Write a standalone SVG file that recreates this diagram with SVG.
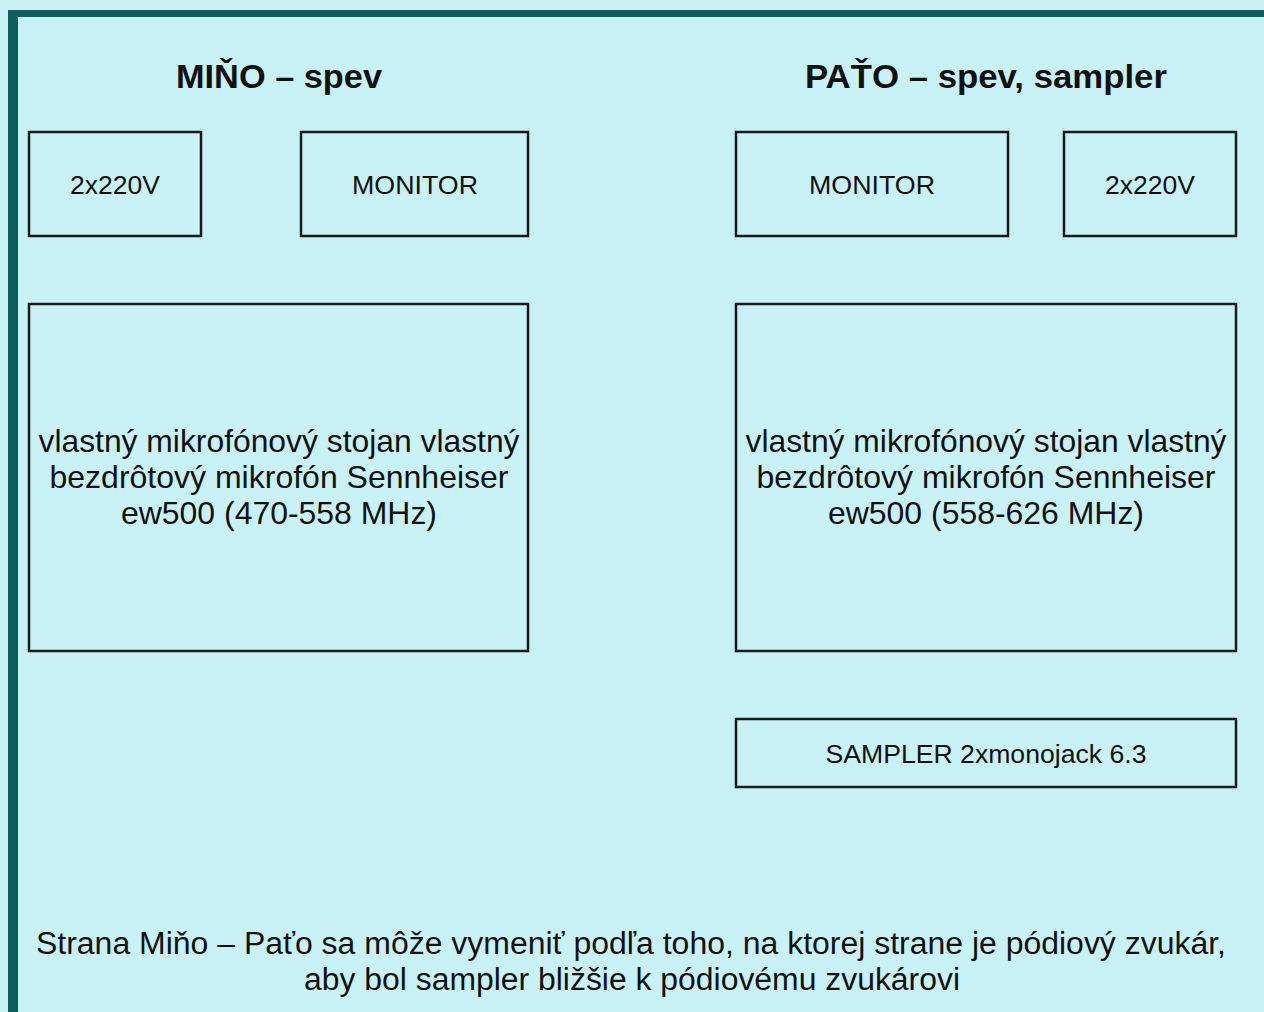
<svg xmlns="http://www.w3.org/2000/svg" width="1264" height="1012" viewBox="0 0 1264 1012">
<style>
.box{fill:none;stroke:#1a1a1a;stroke-width:2.5}
text{font-family:"Liberation Sans",Arial,sans-serif;fill:#111;text-anchor:middle}
.t{font-size:33px;font-weight:bold}
.l{font-size:26.5px}
.b{font-size:32px}
.n{font-size:31px}
</style>
<rect x="0" y="0" width="1264" height="1012" fill="#c9f2f6"/>
<g id="frame">
<rect x="8" y="10" width="1256" height="7" fill="#0e5e5e"/>
<rect x="8" y="10" width="10" height="1002" fill="#0e5e5e"/>
</g>
<g id="title-mino"><text class="t" x="279" y="88" textLength="206" lengthAdjust="spacingAndGlyphs">MIŇO – spev</text></g>
<g id="title-pato"><text class="t" x="986" y="88" textLength="362" lengthAdjust="spacingAndGlyphs">PAŤO – spev, sampler</text></g>
<g id="power-left"><rect class="box" x="29" y="132" width="172" height="104"/><text class="l" x="115" y="194">2x220V</text></g>
<g id="monitor-left"><rect class="box" x="301" y="132" width="227" height="104"/><text class="l" x="415" y="194" textLength="126" lengthAdjust="spacingAndGlyphs">MONITOR</text></g>
<g id="monitor-right"><rect class="box" x="736" y="132" width="272" height="104"/><text class="l" x="872" y="194" textLength="126" lengthAdjust="spacingAndGlyphs">MONITOR</text></g>
<g id="power-right"><rect class="box" x="1064" y="132" width="172" height="104"/><text class="l" x="1150" y="194">2x220V</text></g>
<g id="mic-left"><rect class="box" x="29" y="304" width="499" height="347"/>
<text class="b" x="279" y="452" textLength="481" lengthAdjust="spacingAndGlyphs">vlastný mikrofónový stojan vlastný</text>
<text class="b" x="279" y="488" textLength="459" lengthAdjust="spacingAndGlyphs">bezdrôtový mikrofón Sennheiser</text>
<text class="b" x="279" y="524" textLength="316" lengthAdjust="spacingAndGlyphs">ew500 (470-558 MHz)</text></g>
<g id="mic-right"><rect class="box" x="736" y="304" width="500" height="347"/>
<text class="b" x="986" y="452" textLength="481" lengthAdjust="spacingAndGlyphs">vlastný mikrofónový stojan vlastný</text>
<text class="b" x="986" y="488" textLength="459" lengthAdjust="spacingAndGlyphs">bezdrôtový mikrofón Sennheiser</text>
<text class="b" x="986" y="524" textLength="316" lengthAdjust="spacingAndGlyphs">ew500 (558-626 MHz)</text></g>
<g id="sampler"><rect class="box" x="736" y="719" width="500" height="68"/><text class="l" x="986" y="763" textLength="321" lengthAdjust="spacingAndGlyphs">SAMPLER 2xmonojack 6.3</text></g>
<g id="note">
<text class="n" x="631" y="954" textLength="1190" lengthAdjust="spacingAndGlyphs">Strana Miňo – Paťo sa môže vymeniť podľa toho, na ktorej strane je pódiový zvukár,</text>
<text class="n" x="632" y="990" textLength="656" lengthAdjust="spacingAndGlyphs">aby bol sampler bližšie k pódiovému zvukárovi</text>
</g>
<g id="connectors"></g>
</svg>
